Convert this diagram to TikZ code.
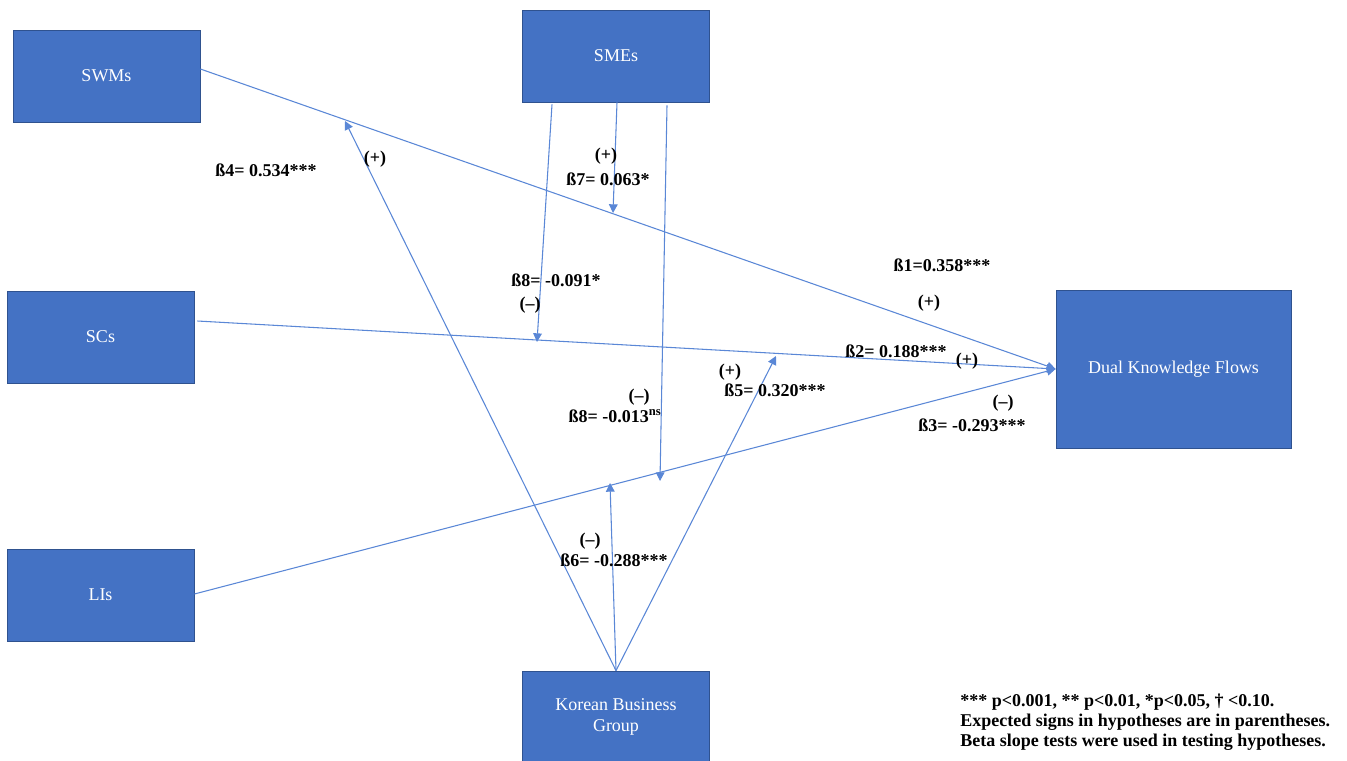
\documentclass[tikz,border=0pt]{standalone}
\usepackage{fontspec}
\setmainfont{Liberation Serif}
\usetikzlibrary{arrows.meta,calc}
\definecolor{boxfill}{HTML}{4472C4}
\definecolor{boxline}{HTML}{2F528F}
\definecolor{connc}{HTML}{5A87D6}
\begin{document}
\begin{tikzpicture}[x=0.75pt,y=-0.75pt,
  var/.style={draw=boxline, line width=0.6pt, fill=boxfill, text=white,
    font=\fontsize{13.5}{15.75}\selectfont, align=center,
    minimum width=140.25pt, minimum height=69pt, inner sep=0pt},
  lab/.style={font=\bfseries\fontsize{13.5}{16}\selectfont, inner sep=0pt},
  conn/.style={draw=connc, line width=0.8pt},
  arr/.style={conn, -{Triangle[length=6.5pt,width=6.5pt]}}]
\useasboundingbox (0,0) rectangle (1347,761);
\clip (0,0) rectangle (1347,761);
% variables
\node[var] (swm) at (106.5,76) {SWMs};
\node[var] (sme) at (616,56) {SMEs};
\node[var] (sc) at (100.5,337) {SCs};
\node[var] (li) at (100.5,595) {LIs};
\node[var, minimum width=176.25pt, minimum height=118.5pt] (dkf) at (1173.5,369) {Dual Knowledge Flows};
\node[var] (kbg) at (616,717) {Korean Business\\Group};
% moderator targets on the main paths
\coordinate (m4) at (345,121);
\coordinate (m7) at (613,213);
\coordinate (m8a) at (537,342);
\coordinate (m5) at (776,356);
\coordinate (m6) at (610,483);
\coordinate (m8b) at (660,481);
% main paths
\draw[arr] ($(swm.east)+(0,-7)$) -- (dkf.west);
\draw[arr] ($(sc.east)+(3,-16)$) -- (dkf.west);
\draw[arr] ($(li.east)+(0,-1)$) -- (dkf.west);
% Korean Business Group moderation
\draw[arr] (kbg.north) -- (m4);
\draw[arr] (kbg.north) -- (m6);
\draw[arr] (kbg.north) -- (m5);
% SMEs moderation
\draw[arr] ($(sme.south)+(-64,2)$) -- (m8a);
\draw[arr] ($(sme.south)+(1,0)$) -- (m7);
\draw[arr] ($(sme.south)+(51,3)$) -- (m8b);
% labels
\node[lab] (l4) at (266,170) {ß4= 0.534***};
\node[lab] (s4) at (375,159) {(+)};
\node[lab] (s7) at (606,156) {(+)};
\node[lab] (l7) at (608,179) {ß7= 0.063*};
\node[lab] (l8a) at (556,280) {ß8= -0.091*};
\node[lab] (s8a) at (530,305) {(–)};
\node[lab] (s8b) at (639,397) {(–)};
\node[lab] (l8b) at (615,416) {ß8= -0.013\textsuperscript{ns}};
\node[lab] (s5) at (730,372) {(+)};
\node[lab] (l5) at (775,390) {ß5= 0.320***};
\node[lab] (l1) at (942,265) {ß1=0.358***};
\node[lab] (s1) at (929,303) {(+)};
\node[lab] (l2) at (896,351) {ß2= 0.188***};
\node[lab] (s2) at (967,361) {(+)};
\node[lab] (s3) at (1003,403) {(–)};
\node[lab] (l3) at (972,425) {ß3= -0.293***};
\node[lab] (s6) at (590,541) {(–)};
\node[lab] (l6) at (614,560) {ß6= -0.288***};
% note
\node[font=\bfseries\fontsize{13.5}{15}\selectfont, align=left, anchor=west, inner sep=0pt] (note) at (960,722)
  {*** p<0.001, ** p<0.01, *p<0.05, † <0.10.\\Expected signs in hypotheses are in parentheses.\\Beta slope tests were used in testing hypotheses.};
\end{tikzpicture}
\end{document}
